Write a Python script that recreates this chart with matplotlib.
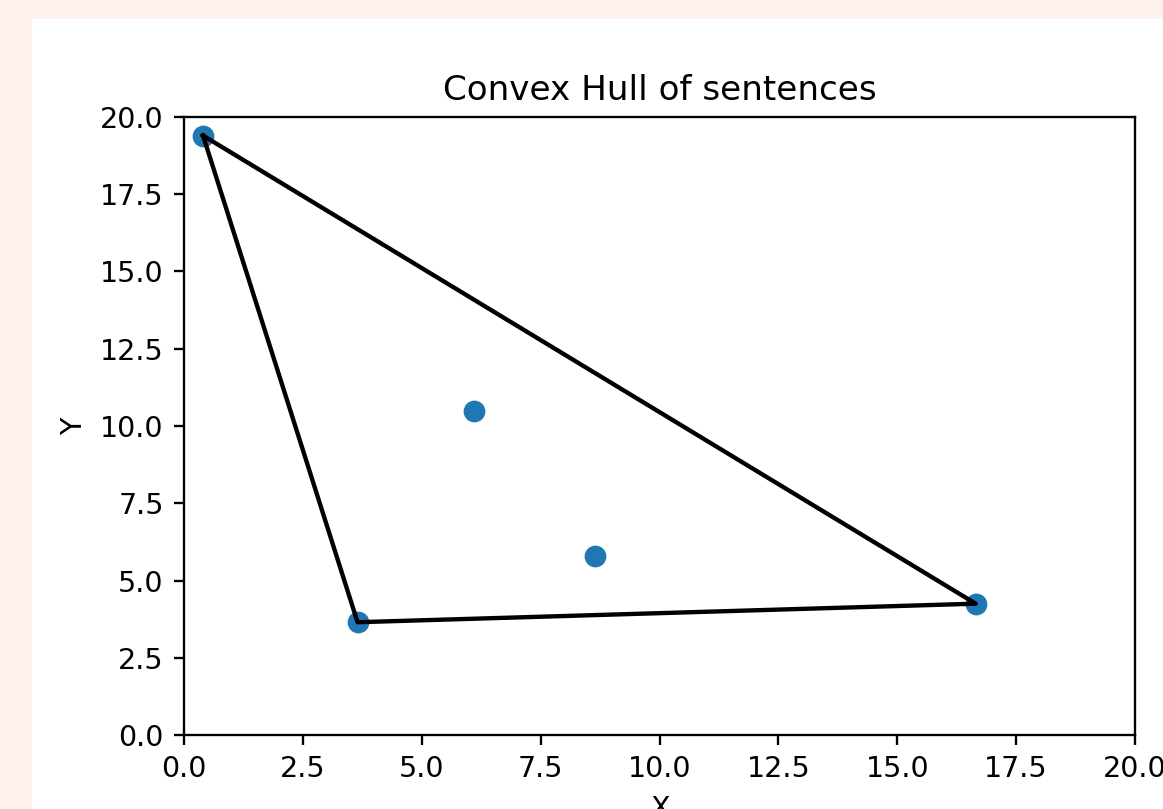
import matplotlib
matplotlib.use("Agg")
import matplotlib.pyplot as plt
from matplotlib.patches import Rectangle

# sentence points
xs = [0.4, 3.65, 6.1, 8.65, 16.65]
ys = [19.4, 3.65, 10.5, 5.8, 4.25]
hull_idx = [0, 1, 4, 0]

W, H = 1163, 809
s = 2.09   # scale of the screenshot vs. default matplotlib sizes
fs = 2.05  # font scale

fig = plt.figure(figsize=(W / 100, H / 100), dpi=100)
fig.patch.set_facecolor('#fdf2ee')
# white card the figure sits in
fig.patches.append(Rectangle((32 / W, 0), 1, 1 - 19 / H, transform=fig.transFigure,
                             facecolor='white', edgecolor='none', zorder=-1))

ax = fig.add_axes([184 / W, (H - 735) / H, 951 / W, 618 / H])
ax.scatter(xs, ys, s=36 * s * s, color='#1f77b4', linewidths=1.5 * s, zorder=2)
ax.plot([xs[i] for i in hull_idx], [ys[i] for i in hull_idx], 'k-', lw=1.5 * s, zorder=3)

ax.set_xlim(0, 20)
ax.set_ylim(0, 20)
ax.set_xticks([0, 2.5, 5, 7.5, 10, 12.5, 15, 17.5, 20])
ax.set_yticks([0, 2.5, 5, 7.5, 10, 12.5, 15, 17.5, 20])
ax.xaxis.set_major_formatter(plt.FormatStrFormatter('%.1f'))
ax.yaxis.set_major_formatter(plt.FormatStrFormatter('%.1f'))
ax.tick_params(labelsize=10 * fs, length=3.5 * s, width=0.8 * s, pad=3.5 * s)
for sp in ax.spines.values():
    sp.set_linewidth(0.8 * s)

ax.set_title('Convex Hull of sentences', fontsize=12 * fs, pad=6 * s)
ax.set_xlabel('X', fontsize=10 * fs, labelpad=4 * s)
ax.set_ylabel('Y', fontsize=10 * fs, labelpad=4 * s)

fig.savefig('out.png', dpi=100, facecolor=fig.get_facecolor())
